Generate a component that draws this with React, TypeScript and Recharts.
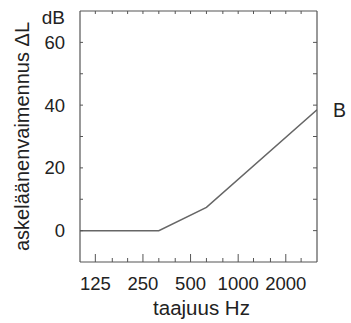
import { LineChart, Line, XAxis, YAxis } from "recharts";

// third-octave band centres (Hz) and the attenuation curve B
const FREQS = [100, 315, 630, 3150];
const DELTA_L = [0, 0, 7.4, 38.5];
const SERIES_NAME = "B";

const X_TICKS = [125, 160, 200, 250, 315, 400, 500, 630, 800, 1000, 1250, 1600, 2000, 2500];
const X_LABELS = [125, 250, 500, 1000, 2000];
const Y_TICKS = [0, 10, 20, 30, 40, 50, 60, 70];
const Y_LABELS = [0, 20, 40, 60];
const Y_UNIT = "dB";
const X_TITLE = "taajuus Hz";
const Y_TITLE = "askeläänenvaimennus ΔL";

const data = FREQS.map((f, i) => ({ f, dl: DELTA_L[i] }));

const FONT = '"Liberation Sans", Arial, sans-serif';
const INK = "#222";
const FRAME = "#555";
const TICK_FS = 18.5;

function BottomTick({ x, y, payload }: any) {
  const major = X_LABELS.includes(payload.value);
  return (
    <g>
      <line x1={x} x2={x} y1={y} y2={y - (major ? 8 : 4)} stroke={FRAME} strokeWidth={1} />
      {major && (
        <text x={x} y={y + 28} textAnchor="middle" fontSize={TICK_FS} fill={INK} fontFamily={FONT}>
          {payload.value}
        </text>
      )}
    </g>
  );
}

function TopTick({ x, y }: any) {
  return <line x1={x} x2={x} y1={y} y2={y + 3} stroke={FRAME} strokeWidth={1} />;
}

function LeftTick({ x, y, payload }: any) {
  if (payload.value === 70) {
    return (
      <text x={x - 15} y={y + 12.5} textAnchor="end" fontSize={TICK_FS + 0.5} fill={INK} fontFamily={FONT}>
        {Y_UNIT}
      </text>
    );
  }
  return (
    <g>
      <line x1={x} x2={x + 3} y1={y} y2={y} stroke={FRAME} strokeWidth={1} />
      {Y_LABELS.includes(payload.value) && (
        <text x={x - 15} y={y + 6.5} textAnchor="end" fontSize={TICK_FS} fill={INK} fontFamily={FONT}>
          {payload.value}
        </text>
      )}
    </g>
  );
}

function RightTick({ x, y, payload }: any) {
  if (payload.value === 70 || payload.value === -10) return null;
  return <line x1={x} x2={x - 4} y1={y} y2={y} stroke={FRAME} strokeWidth={1} />;
}

function EndLabel({ x, y, index }: any) {
  if (index !== data.length - 1) return null;
  return (
    <text x={x + 16} y={y + 7} fontSize={19.5} fill={INK} fontFamily={FONT}>
      {SERIES_NAME}
    </text>
  );
}

function YTitle({ viewBox }: any) {
  const cy = viewBox.y + viewBox.height / 2;
  return (
    <text
      x={29}
      y={cy}
      transform={`rotate(-90 29 ${cy})`}
      textAnchor="middle"
      fontSize={20}
      fill={INK}
      fontFamily={FONT}
    >
      {Y_TITLE}
    </text>
  );
}

function XTitle({ viewBox }: any) {
  const cx = viewBox.x + viewBox.width / 2 + 3;
  return (
    <text x={cx} y={315} textAnchor="middle" fontSize={20.5} fill={INK} fontFamily={FONT}>
      {X_TITLE}
    </text>
  );
}

export default function App() {
  return (
    <div style={{ position: "absolute", left: 0, top: 0, background: "#fff" }}>
      <LineChart width={351} height={323} data={data} margin={{ top: 10, right: 33, bottom: 0, left: 0 }}>
        <XAxis
          xAxisId="b"
          dataKey="f"
          type="number"
          scale="log"
          domain={[100, 3150]}
          allowDataOverflow
          ticks={X_TICKS}
          interval={0}
          height={61}
          tickSize={0}
          tickMargin={0}
          tickLine={false}
          axisLine={{ stroke: FRAME, strokeWidth: 1.2 }}
          tick={<BottomTick />}
          label={<XTitle />}
        />
        <XAxis
          xAxisId="t"
          orientation="top"
          dataKey="f"
          type="number"
          scale="log"
          domain={[100, 3150]}
          allowDataOverflow
          ticks={X_TICKS}
          interval={0}
          height={1}
          tickSize={0}
          tickMargin={0}
          tickLine={false}
          axisLine={{ stroke: FRAME, strokeWidth: 1.2 }}
          tick={<TopTick />}
        />
        <YAxis
          yAxisId="l"
          type="number"
          domain={[-10, 70]}
          allowDataOverflow
          ticks={Y_TICKS}
          interval={0}
          width={80}
          tickSize={0}
          tickMargin={0}
          tickLine={false}
          axisLine={{ stroke: FRAME, strokeWidth: 1.2 }}
          tick={<LeftTick />}
          label={<YTitle />}
        />
        <YAxis
          yAxisId="r"
          orientation="right"
          type="number"
          domain={[-10, 70]}
          allowDataOverflow
          ticks={Y_TICKS}
          interval={0}
          width={1}
          tickSize={0}
          tickMargin={0}
          tickLine={false}
          axisLine={{ stroke: FRAME, strokeWidth: 1.2 }}
          tick={<RightTick />}
        />
        <Line
          xAxisId="b"
          yAxisId="l"
          dataKey="dl"
          stroke="#666"
          strokeWidth={1.5}
          dot={false}
          isAnimationActive={false}
          label={<EndLabel />}
        />
      </LineChart>
    </div>
  );
}
